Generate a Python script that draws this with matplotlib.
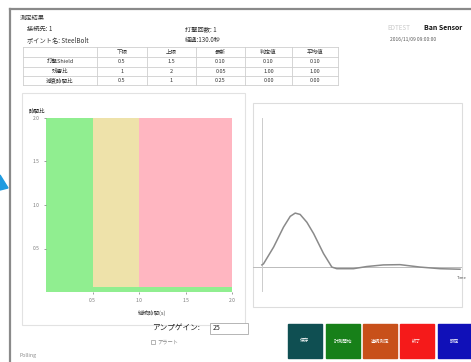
import numpy as np
import matplotlib
matplotlib.use("Agg")
import matplotlib.pyplot as plt
from matplotlib.patches import Rectangle, Polygon

plt.rcParams['font.family'] = ['Noto Sans CJK JP', 'DejaVu Sans']

W, H = 471, 362

# --- data ---
row_labels = ['打撃Shield', '残響比', '減衰時間比']
col_labels = ['下限', '上限', '最新', '判定値', '平均値']
table_vals = [['0.5', '1.5', '0.10', '0.10', '0.10'],
              ['1', '2', '0.05', '1.00', '1.00'],
              ['0.5', '1', '0.25', '0.00', '0.00']]

zone_x0 = [0.0, 0.5, 1.0, 0.5]
zone_x1 = [0.5, 1.0, 2.0, 2.0]
zone_y0 = [0.0, 0.06, 0.06, 0.0]
zone_y1 = [2.0, 2.0, 2.0, 0.06]
zone_colors = ['#90ee90', '#eee2aa', '#ffb6c1', '#90ee90']
x_ticks = [0.5, 1.0, 1.5, 2.0]
y_ticks = [0.5, 1.0, 1.5, 2.0]

wave_t = [0.0, 0.8, 5.9, 10.9, 14.3, 16.8, 19.3, 22.7, 26.1, 31.1, 35.3,
          37.8, 46.2, 52.9, 61.3, 69.7, 79.8, 89.9, 100.0]
wave_a = [0.04, 0.06, 0.37, 0.74, 0.94, 1.0, 0.975, 0.83, 0.62, 0.25, 0.0,
          -0.03, -0.03, 0.01, 0.04, 0.045, 0.0, -0.03, -0.04]

buttons = ['保存', '計測開始', '連続測定', '終了', '設定']
button_colors = ['#0f4f52', '#178019', '#c8501a', '#f51a1a', '#1010b8']


def fig_rect(x0, y0, x1, y1):
    # pixel box (top-left origin) -> figure fraction
    return [x0 / W, (H - y1) / H, (x1 - x0) / W, (y1 - y0) / H]


fig = plt.figure(figsize=(W / 100, H / 100), dpi=100)

# overlay in pixel coords for the window decoration
ov = fig.add_axes([0, 0, 1, 1])
ov.set_xlim(0, W)
ov.set_ylim(H, 0)
ov.axis('off')

ov.plot([10, W], [9, 9], color='#8a8a8a', lw=1.6)
ov.plot([10, 10], [9, H], color='#8a8a8a', lw=1.6)
ov.add_patch(Polygon([(0, 175), (8, 188), (0, 190)], closed=True,
                     color='#1e9be0'))

tc = '#333333'
ov.text(20, 18, '測定結果', fontsize=4.5, color=tc, va='center')
ov.text(27, 29, '接続先: 1', fontsize=4.5, color=tc, va='center')
ov.text(27, 40, 'ポイント名: SteelBolt', fontsize=4.5, color=tc, va='center')
ov.text(185, 29, '打撃回数: 1', fontsize=4.5, color=tc, va='center')
ov.text(185, 40, '経過:130.0秒', fontsize=4.5, color=tc, va='center')

ov.text(387, 28, 'EDTEST', fontsize=4.5, color='#c8c8c8', va='center')
ov.text(424, 28, 'Ban Sensor', fontsize=5, color='#111111', va='center',
        fontweight='bold')
ov.text(390, 40, '2016/11/09 09:00:00', fontsize=3.5, color='#555555',
        va='center')

# table
col_edges = [23, 97, 147, 196, 245, 292, 338]
row_edges = [47, 57, 66.5, 76, 85]
for y in row_edges:
    ov.plot([col_edges[0], col_edges[-1]], [y, y], color='#cfcfcf', lw=0.6)
for x in col_edges:
    ov.plot([x, x], [row_edges[0], row_edges[-1]], color='#cfcfcf', lw=0.6)
for j, lab in enumerate(col_labels):
    cx = (col_edges[j + 1] + col_edges[j + 2]) / 2
    ov.text(cx, (row_edges[0] + row_edges[1]) / 2, lab, fontsize=4,
            color=tc, ha='center', va='center')
for i, lab in enumerate(row_labels):
    cy = (row_edges[i + 1] + row_edges[i + 2]) / 2
    ov.text((col_edges[0] + col_edges[1]) / 2, cy, lab, fontsize=4,
            color=tc, ha='center', va='center')
    for j, v in enumerate(table_vals[i]):
        cx = (col_edges[j + 1] + col_edges[j + 2]) / 2
        ov.text(cx, cy, v, fontsize=4, color=tc, ha='center', va='center')

# panel frames
ov.add_patch(Rectangle((22, 93), 223, 232, fill=False, ec='#e2e2e2', lw=0.8))
ov.add_patch(Rectangle((253, 103), 209, 204, fill=False, ec='#dddddd', lw=0.8))

# left chart
ax = fig.add_axes(fig_rect(46, 118, 232, 292))
x0 = np.array(zone_x0)
y0 = np.array(zone_y0)
ax.bar(x0, np.array(zone_y1) - y0, width=np.array(zone_x1) - x0, bottom=y0,
       align='edge', color=zone_colors, edgecolor='none')
ax.set_xlim(0, 2.0)
ax.set_ylim(0, 2.0)
ax.set_xticks(x_ticks)
ax.set_yticks(y_ticks)
ax.set_xticklabels([f'{v:.1f}' for v in x_ticks])
ax.set_yticklabels([f'{v:.1f}' for v in y_ticks])
ax.tick_params(labelsize=3.5, colors='#777777', length=1.5, width=0.5, pad=3)
for s in ax.spines.values():
    s.set_visible(False)
ov.text(29, 110, '時間比', fontsize=4, color='#222222', va='center')
ov.text(152, 313, '継続時間(s)', fontsize=4, color='#444444', va='center',
        ha='center')

# right chart
ax2 = fig.add_axes(fig_rect(253, 110, 462, 300))
ax2.set_xlim(-4.5, 101)
ax2.set_ylim(-0.61, 2.91)
ax2.axis('off')
ax2.axhline(0, color='#bbbbbb', lw=0.7)
ax2.axvline(0, ymin=0.05, ymax=0.96, color='#cccccc', lw=0.7)
ax2.plot(wave_t, wave_a, color='#8a8a8a', lw=1.1)
ov.text(467, 278, 'Time', fontsize=3, color='#555555', ha='right',
        va='center')

# bottom controls
ov.text(200, 328, 'アンプゲイン:', fontsize=5.5, color='#222222', ha='right',
        va='center')
ov.add_patch(Rectangle((210, 323), 38, 11, fc='white', ec='#aaaaaa', lw=0.6))
ov.text(213, 328.5, '25', fontsize=5, color='#222222', va='center')
ov.add_patch(Rectangle((151, 340), 4, 4, fill=False, ec='#999999', lw=0.5))
ov.text(157, 342, 'アラート', fontsize=3.8, color='#888888', va='center')
ov.text(20, 356, 'Polling', fontsize=3.8, color='#888888', va='center')

bx = [288, 326, 363, 400, 438]
for x, lab, c in zip(bx, buttons, button_colors):
    ov.add_patch(Rectangle((x, 324), 34, 34, color=c))
    ov.text(x + 17, 341, lab, fontsize=3.3, color='white', ha='center',
            va='center')

fig.savefig('out.png', dpi=100)
